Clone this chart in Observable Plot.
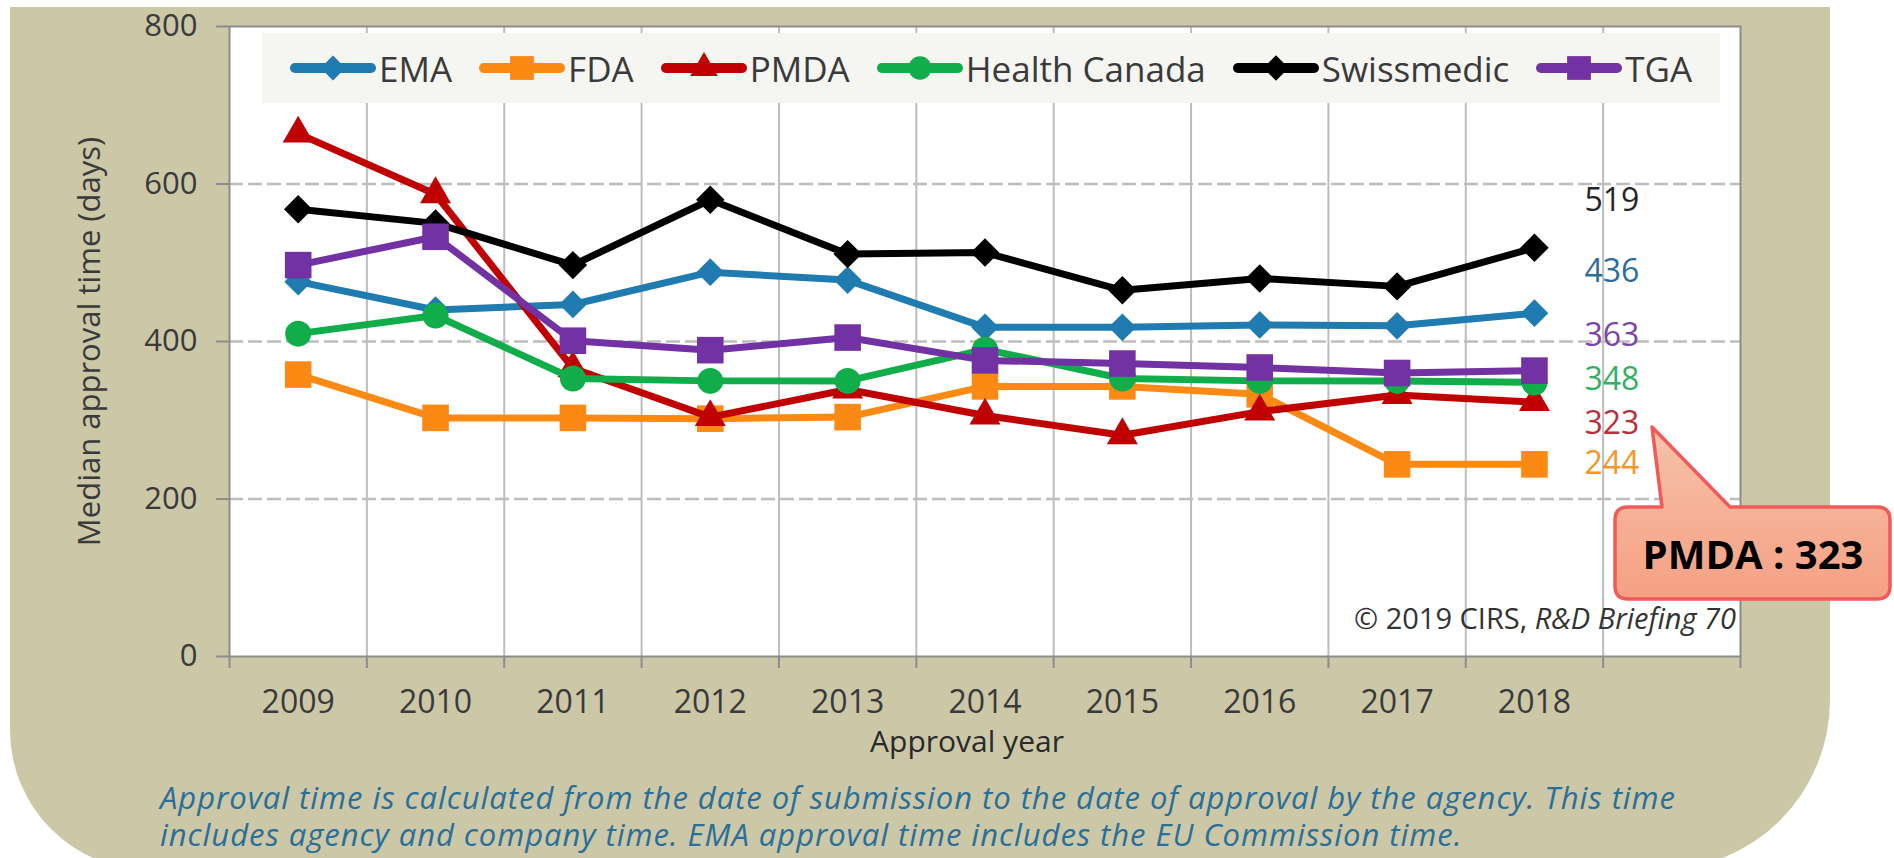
<!DOCTYPE html>
<html>
<head>
<meta charset="utf-8">
<script src="https://cdn.jsdelivr.net/npm/d3@7"></script>
<script src="https://cdn.jsdelivr.net/npm/@observablehq/plot@0.6"></script>
<style>
  html, body { margin: 0; padding: 0; background: #ffffff; width: 1894px; height: 858px; overflow: hidden; font-family: "Open Sans", sans-serif; }
  #panel { position: absolute; left: 10px; top: 7px; width: 1820px; height: 863px; background: #ccc7a7; border-radius: 0 0 170px 140px; }
  #chart { position: absolute; left: 0; top: 0; }
  #legend { position: absolute; left: 262px; top: 33px; width: 1458px; height: 70px; background: #f5f5f1; display: flex; align-items: center; gap: 27px; padding-left: 28px; box-sizing: border-box; }
  .item { display: flex; align-items: center; }
  .item span { font-size: 35px; color: #3a3a3a; margin-left: 3px; line-height: 1; }
  #copy { position: absolute; right: calc(1894px - 1736px); top: 598px; font-size: 29px; color: #333; white-space: nowrap; }
  #caption { position: absolute; left: 160px; top: 779px; font-size: 31px; letter-spacing: 0.95px; line-height: 37px; font-style: italic; color: #2a6f97; white-space: nowrap; }
</style>
</head>
<body>
<div id="panel"></div>
<div id="chart"></div>
<script>
// ---- data ----
const years = [2009, 2010, 2011, 2012, 2013, 2014, 2015, 2016, 2017, 2018];
const agencies = ["EMA", "FDA", "PMDA", "Health Canada", "Swissmedic", "TGA"];
const ema          = [476, 440, 447, 488, 478, 418, 418, 421, 420, 436];
const fda          = [358, 303, 303, 302, 304, 343, 343, 333, 244, 244];
const pmda         = [664, 587, 366, 304, 339, 306, 281, 311, 332, 323];
const healthCanada = [410, 433, 353, 350, 350, 390, 353, 350, 350, 348];
const swissmedic   = [568, 550, 497, 580, 511, 513, 465, 480, 470, 519];
const tga          = [497, 533, 401, 389, 405, 376, 372, 367, 360, 363];
const yTicks = [0, 200, 400, 600, 800];
const yLabel = "Median approval time (days)";
const xLabel = "Approval year";
const copyrightPlain = "© 2019 CIRS, ";
const copyrightItalic = "R&D Briefing 70";
const calloutText = "PMDA : 323";
const captionLines = [
  "Approval time is calculated from the date of submission to the date of approval by the agency. This time",
  "includes agency and company time. EMA approval time includes the EU Commission time."
];

// ---- styles ----
const colors = ["#1f7bb0", "#fa8a14", "#c00000", "#11ad4b", "#000000", "#7232a3"];
const symbolNames = ["diamond2", "square", "triangle", "circle", "diamond2", "square"];
const markerR = {"EMA": 12.5, "FDA": 15, "PMDA": 11.5, "Health Canada": 13, "Swissmedic": 12.8, "TGA": 15};
const labelColor = {"EMA": "#2c6e98", "FDA": "#f5962a", "PMDA": "#b8303e", "Health Canada": "#33b05f", "Swissmedic": "#262626", "TGA": "#7e45a8"};
const endLabelDy = {"EMA": -41, "FDA": -1, "PMDA": 22, "Health Canada": -3, "Swissmedic": -47, "TGA": -35};

const series = {"EMA": ema, "FDA": fda, "PMDA": pmda, "Health Canada": healthCanada, "Swissmedic": swissmedic, "TGA": tga};
const table = agencies.flatMap(a => series[a].map((v, i) => ({agency: a, year: years[i], value: v})));
const lastYear = years[years.length - 1];
const boundaries = d3.range(years[0] - 0.5, lastYear + 2, 1);
const innerBounds = boundaries.slice(1, -1);

const H = 790;
const chart = Plot.plot({
  width: 1894,
  height: H,
  marginLeft: 229,
  marginRight: 154,
  marginTop: 26,
  marginBottom: H - 656,
  style: {background: "transparent", fontFamily: "Open Sans", color: "#3a3a3a", overflow: "visible"},
  x: {domain: [boundaries[0], boundaries[boundaries.length - 1]]},
  y: {domain: [0, 800]},
  color: {domain: agencies, range: colors},
  symbol: {domain: agencies, range: symbolNames},
  marks: [
    Plot.frame({fill: "white"}),
    Plot.gridX({ticks: innerBounds, stroke: "#bdbdbd", strokeOpacity: 1, strokeWidth: 2}),
    Plot.gridY({ticks: [200, 400, 600], stroke: "#bdbdbd", strokeOpacity: 1, strokeWidth: 2.5, strokeDasharray: "14,5"}),
    Plot.frame({stroke: "#8c8c8c", strokeWidth: 2}),
    Plot.axisY({ticks: yTicks, tickSize: 13, tickPadding: 19, fontSize: 31, stroke: "#8c8c8c", strokeWidth: 2,
      label: yLabel, labelAnchor: "center", labelOffset: 152, labelArrow: "none"}),
    Plot.axisX({ticks: boundaries, tickSize: 12, tickFormat: () => "", stroke: "#8c8c8c", strokeWidth: 2, label: null}),
    Plot.axisX({ticks: years, tickSize: 0, tickPadding: 34, fontSize: 32, tickFormat: d => String(d), label: null}),
    Plot.text([xLabel], {frameAnchor: "bottom", lineAnchor: "middle", dy: 86, dx: -18, fontSize: 30, fill: "#2a2a2a"}),
    ...agencies.flatMap(a => {
      const d = table.filter(t => t.agency === a);
      return [
        Plot.line(d, {x: "year", y: "value", stroke: "agency", strokeWidth: 7, strokeLinejoin: "round"}),
        Plot.dot(d, {x: "year", y: "value", symbol: "agency", fill: "agency", stroke: "none", r: markerR[a]})
      ];
    }),
    ...agencies.map(a => Plot.text(table.filter(t => t.agency === a && t.year === lastYear), {
      x: "year", y: "value", text: d => String(d.value), fill: labelColor[a],
      dx: 50, dy: endLabelDy[a], textAnchor: "start", fontSize: 32
    }))
  ]
});
document.getElementById("chart").appendChild(chart);

// ---- legend (inside plot area) ----
const legend = document.createElement("div");
legend.id = "legend";
agencies.forEach((a, i) => {
  const item = document.createElement("div");
  item.className = "item";
  const sym = d3.symbol(d3["symbol" + {diamond2: "Diamond2", square: "Square", triangle: "Triangle", circle: "Circle"}[symbolNames[i]]], Math.PI * markerR[a] * markerR[a] * 0.8)();
  item.innerHTML = `<svg width="86" height="36"><line x1="5" x2="81" y1="18" y2="18" stroke="${colors[i]}" stroke-width="10" stroke-linecap="round"/><path d="${sym}" transform="translate(43,18)" fill="${colors[i]}"/></svg><span>${a}</span>`;
  legend.appendChild(item);
});
document.body.appendChild(legend);

// ---- copyright ----
const copy = document.createElement("div");
copy.id = "copy";
copy.innerHTML = `${copyrightPlain}<i>${copyrightItalic.replace("&", "&amp;")}</i>`;
document.body.appendChild(copy);

// ---- caption ----
const cap = document.createElement("div");
cap.id = "caption";
cap.innerHTML = captionLines.join("<br>");
document.body.appendChild(cap);

// ---- callout ----
const ns = "http://www.w3.org/2000/svg";
const co = document.createElementNS(ns, "svg");
co.setAttribute("width", 1894); co.setAttribute("height", 858);
co.style.position = "absolute"; co.style.left = "0"; co.style.top = "0";
co.innerHTML = `<defs><linearGradient id="cg" x1="0" y1="0" x2="0" y2="1"><stop offset="0" stop-color="#f6c2aa"/><stop offset="1" stop-color="#f5a083"/></linearGradient></defs>
<path d="M1628,507 H1662 L1652,427 L1730,507 H1877 Q1890,507 1890,520 V586 Q1890,599 1877,599 H1628 Q1615,599 1615,586 V520 Q1615,507 1628,507 Z" fill="url(#cg)" stroke="#f05a5a" stroke-width="3.5" stroke-linejoin="round"/>
<text x="1753" y="569" text-anchor="middle" font-family="'Open Sans',sans-serif" font-weight="bold" font-size="40" fill="#000">${calloutText}</text>`;
document.body.appendChild(co);
</script>
</body>
</html>
